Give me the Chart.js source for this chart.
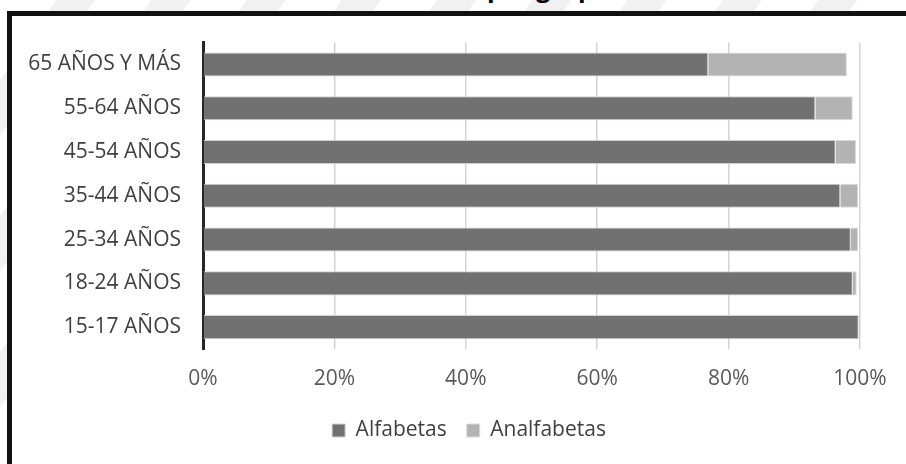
<!DOCTYPE html>
<html>
<head>
<meta charset="utf-8">
<script src="https://cdn.jsdelivr.net/npm/chart.js@4.4.1/dist/chart.umd.min.js"></script>
<style>
  html, body { margin: 0; padding: 0; width: 906px; height: 464px; overflow: hidden; }
  body {
    position: relative;
    background: repeating-linear-gradient(125deg, #ffffff 0 46px, #f1f1f1 46px 78px);
    font-family: "Open Sans", sans-serif;
  }
  .title { position: absolute; top: -25px; font: bold 25px/24px "Open Sans", sans-serif; color: #000; white-space: nowrap; }
  #t1 { right: 422px; }
  #t2 { left: 487px; }
  #frame {
    position: absolute; left: 7px; top: 11px;
    width: 940px; height: 480px;
    border: 5px solid #111; background: #fff;
  }
  /* el canvas sube 8px: el eje Y reserva ese margen arriba */
  #wrap { position: absolute; left: 0; top: -8px; width: 894px; height: 456px; }
</style>
</head>
<body>
<div class="title" id="t1">Condición de alfabetismo</div>
<div class="title" id="t2">por grupo de edad</div>
<div id="frame"><div id="wrap"><canvas id="c"></canvas></div></div>
<script>
// datos (% de población por grupo de edad)
const categories = ['65 AÑOS Y MÁS', '55-64 AÑOS', '45-54 AÑOS', '35-44 AÑOS', '25-34 AÑOS', '18-24 AÑOS', '15-17 AÑOS'];
const alfabetas = [76.9, 93.2, 96.3, 97.0, 98.6, 98.9, 99.8];
const analfabetas = [21.1, 5.7, 3.1, 2.7, 1.1, 0.6, 0.2];
const xTicks = [0, 20, 40, 60, 80, 100];

const FAMILY = '"Open Sans", sans-serif';
const FONT = 21;

/* La leyenda va centrada en todo el marco, no en el área de datos. */
const legendShift = {
  id: 'legendShift',
  afterLayout(chart) {
    const lg = chart.legend;
    if (!lg) return;
    lg.left += 33; lg.right += 33;
  },
};

new Chart(document.getElementById('c'), {
  type: 'bar',
  data: {
    labels: categories,
    datasets: [
      { label: 'Alfabetas', data: alfabetas, backgroundColor: '#717171', borderColor: '#d2d2d2', borderWidth: 1,
        categoryPercentage: 1, barPercentage: 0.55 },
      { label: 'Analfabetas', data: analfabetas, backgroundColor: '#b3b3b3', borderColor: '#dadada', borderWidth: 1,
        categoryPercentage: 1, barPercentage: 0.55 },
    ],
  },
  options: {
    indexAxis: 'y',
    responsive: true, maintainAspectRatio: false,
    animation: false,
    layout: { padding: { left: 0, right: 46, top: 17, bottom: 13 } },
    plugins: {
      tooltip: { enabled: false },
      legend: {
        position: 'bottom',
        labels: { color: '#404040', font: { family: FAMILY, size: FONT }, boxWidth: 13, boxHeight: 13, padding: 20 },
      },
    },
    scales: {
      x: {
        stacked: true, min: 0, max: 100,
        afterBuildTicks: (s) => { s.ticks = xTicks.map((v) => ({ value: v })); },
        afterFit: (s) => { s.height = 51; },
        grid: { color: '#d4d4d4', lineWidth: 1.5, drawTicks: false },
        border: { display: false },
        ticks: { color: '#595959', font: { family: FAMILY, size: FONT }, padding: 17, callback: (v) => v + '%' },
      },
      y: {
        stacked: true,
        afterFit: (s) => { s.width = 191; },
        grid: { display: false, drawTicks: false },
        border: { color: '#262626', width: 3 },
        ticks: { color: '#404040', font: { family: FAMILY, size: FONT }, padding: 22 },
      },
    },
  },
  plugins: [legendShift],
});
</script>
</body>
</html>
